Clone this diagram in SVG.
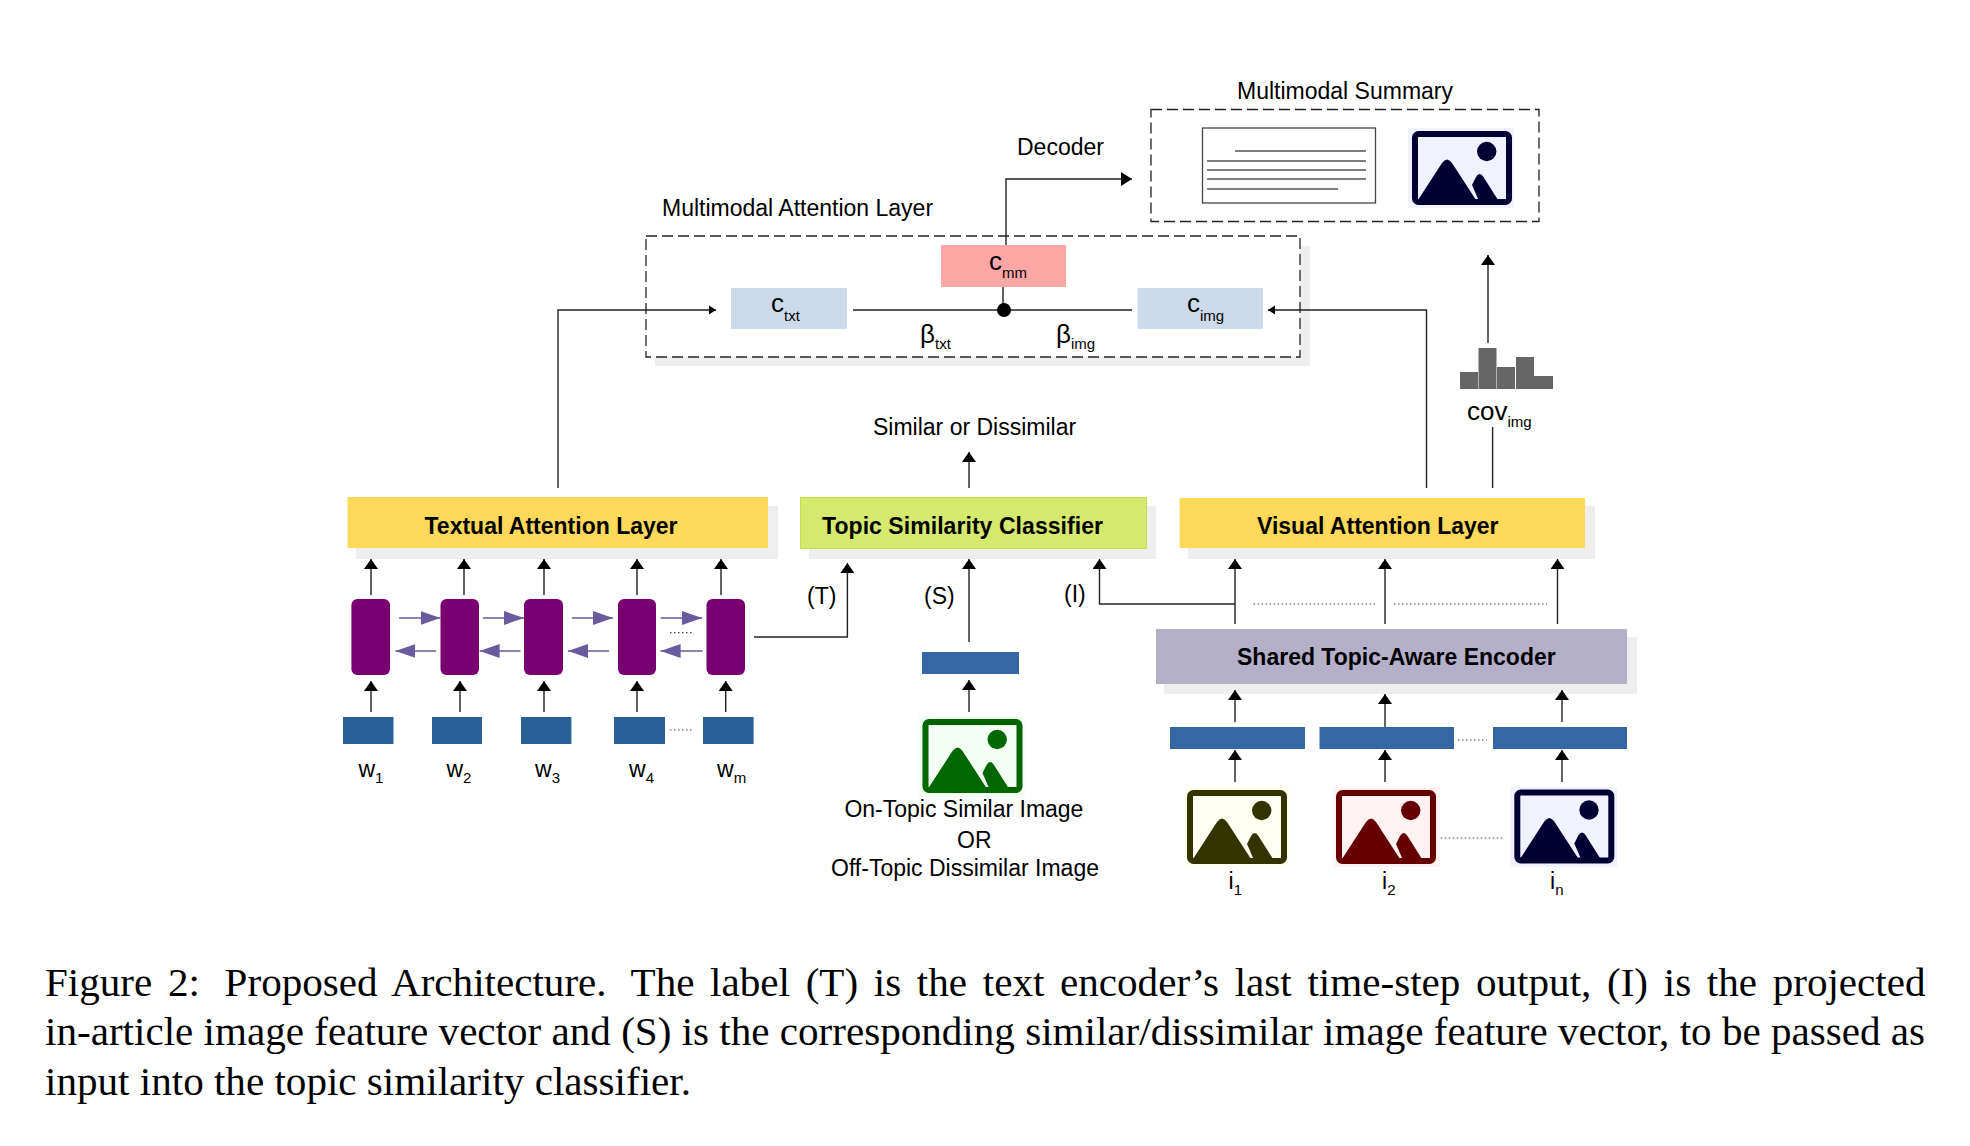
<svg xmlns="http://www.w3.org/2000/svg" width="1970" height="1146" viewBox="0 0 1970 1146">
<style>
text{font-family:"Liberation Sans",Arial,sans-serif;font-size:23px;fill:#000}
.b{font-weight:700}
.s{font-size:15px}
.c{font-size:26px}
.cap{font-family:"Liberation Serif","Times New Roman",serif;font-size:41.1px}
.shadow{fill:#eee}
.yellow{fill:#ffd95a}
.ln{fill:none;stroke:#222;stroke-width:1.4}
.ar{marker-end:url(#h)}
.pa{fill:none;stroke:#6a5a9e;stroke-width:1.6;marker-end:url(#p)}
.dash{fill:#fff;stroke:#222;stroke-width:1.3;stroke-dasharray:11 5}
.dot{fill:none;stroke:#444;stroke-width:1.2;stroke-dasharray:1.5 2.5}
.pur{fill:#780070}
.blue{fill:#2b6096}
.blue2{fill:#3567a6}
.lb{fill:#cddaea}
</style>
<defs>
<marker id="h" markerUnits="userSpaceOnUse" markerWidth="11" markerHeight="14" refX="10" refY="7" orient="auto"><path d="M0 0L10 7L0 14Z" fill="#000"/></marker>
<marker id="h2" markerUnits="userSpaceOnUse" markerWidth="8" markerHeight="10" refX="7" refY="5" orient="auto"><path d="M0 0.5L7 5L0 9.5Z" fill="#000"/></marker>
<marker id="h3" markerUnits="userSpaceOnUse" markerWidth="12" markerHeight="14" refX="11" refY="7" orient="auto"><path d="M0 0L11 7L0 14Z" fill="#000"/></marker>
<marker id="p" markerUnits="userSpaceOnUse" markerWidth="21" markerHeight="14" refX="20" refY="7" orient="auto"><path d="M0 0L20 7L0 14Z" fill="#6a5a9e"/></marker>
<symbol id="icon" viewBox="0 0 100 74" width="100" height="74" overflow="visible">
<rect x="3" y="3" width="94" height="68" rx="3.5" fill="none" stroke="currentColor" stroke-width="6"/>
<circle cx="74.7" cy="20.5" r="9.7" fill="currentColor"/>
<path d="M6 69L30 32Q35 25 40 32L64 69Z" fill="currentColor"/>
<path d="M60 54L64 46Q67.7 40 71.5 46L86 69H66.5Z" fill="currentColor"/>
</symbol>
</defs>
<rect width="1970" height="1146" fill="#fff"/>

<g id="multimodal-attention">
<rect class="shadow" x="655" y="246" width="655" height="120"/>
<rect class="dash" x="646" y="236" width="654" height="121"/>
<text x="662" y="216">Multimodal Attention Layer</text>
</g>

<g id="summary">
<rect class="dash" x="1151" y="109.5" width="388" height="112"/>
<text x="1237" y="99">Multimodal Summary</text>
<rect x="1202.5" y="128" width="173" height="75" fill="#fff" stroke="#444" stroke-width="1.3"/>
<path d="M1235 151H1366M1207 161H1366M1207 170H1366M1207 179H1366M1207 189H1338" fill="none" stroke="#555" stroke-width="1.4"/>
<rect x="1408" y="128" width="106" height="80" fill="#f2f2ff"/>
<use href="#icon" x="1412" y="131" style="color:#000033"/>
</g>
<text id="decoder" x="1017" y="155">Decoder</text>

<g id="c-mm"><rect x="941" y="245" width="125" height="42" fill="#ffa6a6"/><text class="c" x="989" y="270">c<tspan class="s" dy="8">mm</tspan></text></g>
<g id="c-txt"><rect class="lb" x="731" y="288" width="116" height="41"/><text class="c" x="771" y="312">c<tspan class="s" dy="9">txt</tspan></text></g>
<g id="c-img"><rect class="lb" x="1137.5" y="288" width="125.5" height="41"/><text class="c" x="1187" y="312">c<tspan class="s" dy="9">img</tspan></text></g>
<text class="c" x="920" y="343">β<tspan class="s" dy="6">txt</tspan></text>
<text class="c" x="1056" y="343">β<tspan class="s" dy="6">img</tspan></text>

<g id="coverage">
<path d="M1460 372h18v17h-18zM1478.5 348h18v41h-18zM1497 367h18v22h-18zM1516 357h18v32h-18zM1534 376h19v13h-19z" fill="#666"/>
<text class="c" x="1467" y="420">cov<tspan class="s" dy="7">img</tspan></text>
</g>
<text x="873" y="435">Similar or Dissimilar</text>

<g id="textual-attention"><rect class="shadow" x="356" y="506" width="422" height="53"/><rect class="yellow" x="347.5" y="497" width="420.5" height="51"/><text class="b" x="424.5" y="534">Textual Attention Layer</text></g>
<g id="topic-classifier"><rect class="shadow" x="809" y="506" width="347" height="53"/><rect x="800.5" y="497.5" width="346" height="51" fill="#d4e96d" stroke="#bfe04f"/><text class="b" x="822" y="534" textLength="281">Topic Similarity Classifier</text></g>
<g id="visual-attention"><rect class="shadow" x="1188" y="506" width="407" height="53"/><rect class="yellow" x="1179.6" y="498" width="405.4" height="50"/><text class="b" x="1257" y="534">Visual Attention Layer</text></g>
<g id="encoder"><rect class="shadow" x="1164" y="637" width="473" height="57"/><rect x="1156" y="629" width="471" height="55" fill="#b5b0c9"/><text class="b" x="1237" y="665">Shared Topic-Aware Encoder</text></g>

<g id="rnn">
<rect class="pur" x="351.4" y="599" width="38.6" height="76" rx="6"/>
<rect class="pur" x="440.5" y="599" width="38.5" height="76" rx="6"/>
<rect class="pur" x="524" y="599" width="39" height="76" rx="6"/>
<rect class="pur" x="618" y="599" width="38" height="76" rx="6"/>
<rect class="pur" x="706.5" y="599" width="38.5" height="76" rx="6"/>
</g>
<g id="words">
<rect class="blue" x="343" y="717" width="50.5" height="27"/>
<rect class="blue" x="432" y="717" width="50" height="27"/>
<rect class="blue" x="521" y="717" width="50.4" height="27"/>
<rect class="blue" x="614" y="717" width="51" height="27"/>
<rect class="blue" x="703" y="717" width="50.6" height="27"/>
<text x="358.4" y="777">w<tspan class="s" dy="6">1</tspan></text>
<text x="446.4" y="777">w<tspan class="s" dy="6">2</tspan></text>
<text x="535" y="777">w<tspan class="s" dy="6">3</tspan></text>
<text x="629" y="777">w<tspan class="s" dy="6">4</tspan></text>
<text x="717" y="777">w<tspan class="s" dy="6">m</tspan></text>
</g>
<text x="807" y="604">(T)</text>
<text x="924" y="604">(S)</text>
<text x="1064" y="602">(I)</text>

<g id="similar-image">
<rect class="blue2" x="922" y="652" width="97" height="22"/>
<rect x="918.5" y="716" width="106.5" height="81" fill="#f2fff2"/>
<use href="#icon" x="922.5" y="719" style="color:#006600"/>
<text x="844.4" y="817">On-Topic Similar Image</text>
<text x="957" y="848">OR</text>
<text x="831" y="876">Off-Topic Dissimilar Image</text>
</g>
<g id="image-features">
<rect class="blue2" x="1170" y="727" width="135" height="22"/>
<rect class="blue2" x="1319.5" y="727" width="134.5" height="22"/>
<rect class="blue2" x="1493" y="727" width="134" height="22"/>
</g>
<g id="image-1"><rect x="1184" y="787" width="106" height="80" fill="#fffff2"/><use href="#icon" x="1187" y="790" style="color:#333300"/><text x="1228.5" y="889">i<tspan class="s" dy="6">1</tspan></text></g>
<g id="image-2"><rect x="1333" y="787" width="107" height="80" fill="#fff2f2"/><use href="#icon" x="1336" y="790" style="color:#660000"/><text x="1382" y="889">i<tspan class="s" dy="6">2</tspan></text></g>
<g id="image-n"><rect x="1510" y="787" width="107" height="80" fill="#f2f2ff"/><use href="#icon" x="1514.3" y="789.5" style="color:#000033"/><text x="1550" y="889">i<tspan class="s" dy="6">n</tspan></text></g>

<g id="connectors">
<path class="ln" marker-end="url(#h3)" d="M1006 245V179H1132"/>
<path class="ln" marker-end="url(#h2)" d="M558 488V310H716"/>
<path class="ln" marker-end="url(#h2)" d="M1426.5 488V310H1268"/>
<path class="ln" d="M853 310H1132M1003 287V310"/>
<path class="ln" d="M1492.6 427V488"/>
<path class="ln ar" d="M1488 343V255"/>
<path class="ln ar" d="M969 488V452"/>
<path class="ln ar" d="M371 595V559"/><path class="ln ar" d="M464 595V559"/><path class="ln ar" d="M544 595V559"/><path class="ln ar" d="M637 595V559"/><path class="ln ar" d="M721 595V559"/>
<path class="ln ar" d="M371 712V681"/><path class="ln ar" d="M460 712V681"/><path class="ln ar" d="M544 712V681"/><path class="ln ar" d="M637 712V681"/><path class="ln ar" d="M725.7 712V681"/>
<path class="pa" d="M399 618H440.5"/><path class="pa" d="M483 618H524"/><path class="pa" d="M572 618H613"/><path class="pa" d="M660.6 618H702"/>
<path class="pa" d="M436 651H395.4"/><path class="pa" d="M520.5 651H479.6"/><path class="pa" d="M609 651H568"/><path class="pa" d="M702.7 651H660.6"/>
<path class="ln ar" d="M754 637H847.4V563"/>
<path class="ln ar" d="M969 642V559"/>
<path class="ln ar" d="M969 712V680"/>
<path class="ln ar" d="M1235 604H1099.5V559"/>
<path class="ln ar" d="M1235 624V559"/><path class="ln ar" d="M1385 624V559"/><path class="ln ar" d="M1557.5 624V559"/>
<path class="ln ar" d="M1235 722V690"/><path class="ln ar" d="M1385 727V694"/><path class="ln ar" d="M1562 722V690"/>
<path class="ln ar" d="M1235 782V750"/><path class="ln ar" d="M1385 782V750"/><path class="ln ar" d="M1562 782V750"/>
<path class="dot" d="M670 632.7H692M670 730H692M1253.6 604H1376M1394 604H1547M1458 740H1487M1440.7 838H1503"/>
</g>
<circle id="junction" cx="1004" cy="310" r="7" fill="#000"/>

<g id="caption">
<text class="cap" x="45" y="996" word-spacing="5.4">Figure 2: <tspan dx="9">Proposed</tspan> Architecture. <tspan dx="9">The</tspan> label (T) is the text encoder’s last time-step output, (I) is the projected</text>
<text class="cap" x="45" y="1045">in-article image feature vector and (S) is the corresponding similar/dissimilar image feature vector, to be passed as</text>
<text class="cap" x="45" y="1095">input into the topic similarity classifier.</text>
</g>
</svg>
